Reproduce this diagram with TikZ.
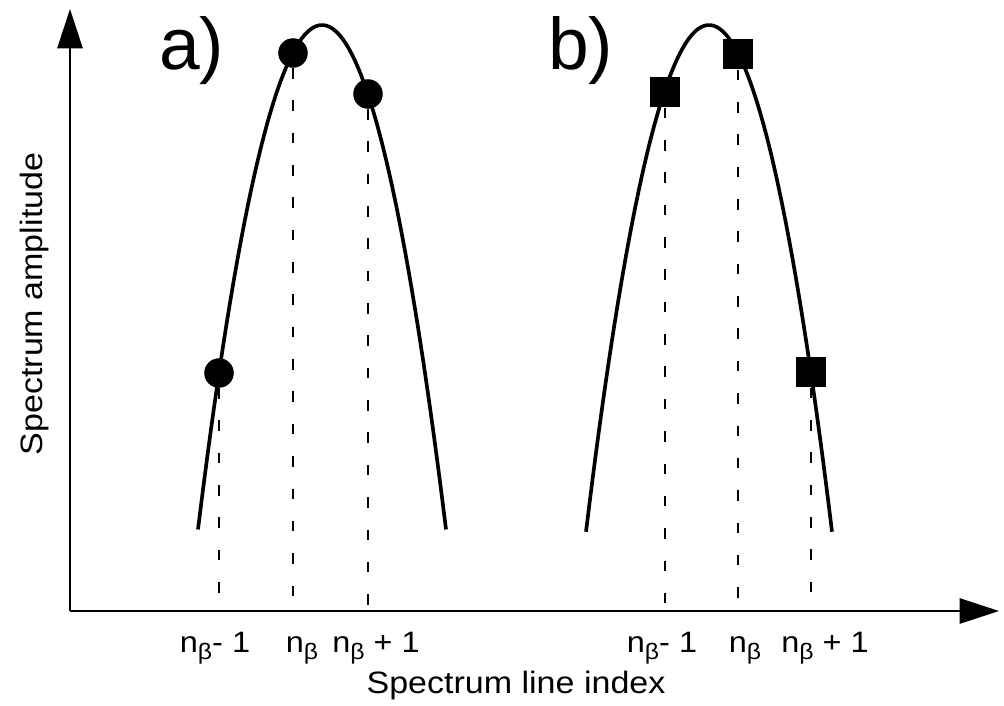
\documentclass[tikz,border=0pt]{standalone}
\usepackage{fontspec}
\setmainfont[FakeStretch=1.1]{Liberation Sans}
\newfontfamily\panelfont{Liberation Sans}
\usetikzlibrary{arrows.meta}
\newcommand{\nbeta}{n\raisebox{-0.5ex}{\fontsize{16}{18}\selectfont β}}

\begin{document}
\begin{tikzpicture}[x=0.025cm, y=-0.025cm,
    axis/.style={line width=1.3pt, -{Triangle[length=28pt, width=18pt]}},
    curve/.style={line width=2.6pt},
    guide/.style={line width=0.9pt, dash pattern=on 7.5pt off 15.5pt},
    dot/.style={circle, fill=black, inner sep=0pt, minimum size=21pt},
    box/.style={rectangle, fill=black, inner sep=0pt, minimum size=22pt},
    ticklabel/.style={anchor=base, inner sep=0pt, font=\fontsize{21}{25}\selectfont},
    title/.style={anchor=base, inner sep=0pt, font=\fontsize{22}{26}\selectfont},
    panel/.style={anchor=base west, inner sep=0pt, font=\panelfont\fontsize{52}{60}\selectfont}]
  \useasboundingbox (0,0) rectangle (1004,705);

  % axes
  \coordinate (o) at (70,611);
  \coordinate (xend) at (999,611);
  \coordinate (yend) at (70,9);
  \draw[axis] (o) -- (xend);
  \draw[axis] (o) -- (yend);

  % panel a: circles
  \node[panel] (pa) at (159,69) {a)};
  \draw[curve] plot[domain=198:446, samples=80] (\x, {25+0.0328*(\x-322)^2});
  \node[dot] (a1) at (219,373) {};
  \node[dot] (a2) at (293,53) {};
  \node[dot] (a3) at (368,94) {};
  \foreach \n in {a1,a2,a3}
    \draw[guide] (\n) -- (\n |- o);
  \node[ticklabel] (la1) at (215,652) {\nbeta- 1};
  \node[ticklabel] (la2) at (302,652) {\nbeta};
  \node[ticklabel] (la3) at (376,652) {\nbeta{} + 1};

  % panel b: squares
  \node[panel] (pb) at (548,69) {b)};
  \draw[curve] plot[domain=586:832, samples=80] (\x, {25+0.0335*(\x-709)^2});
  \node[box] (b1) at (665,92) {};
  \node[box] (b2) at (738,54) {};
  \node[box] (b3) at (811,372) {};
  \foreach \n in {b1,b2,b3}
    \draw[guide] (\n) -- (\n |- o);
  \node[ticklabel] (lb1) at (662,652) {\nbeta- 1};
  \node[ticklabel] (lb2) at (745,652) {\nbeta};
  \node[ticklabel] (lb3) at (825,652) {\nbeta{} + 1};

  % axis titles
  \node[title] (xlabel) at (516,693) {Spectrum line index};
  \node[title, rotate=90] (ylabel) at (42,304) {Spectrum amplitude};
\end{tikzpicture}
\end{document}
